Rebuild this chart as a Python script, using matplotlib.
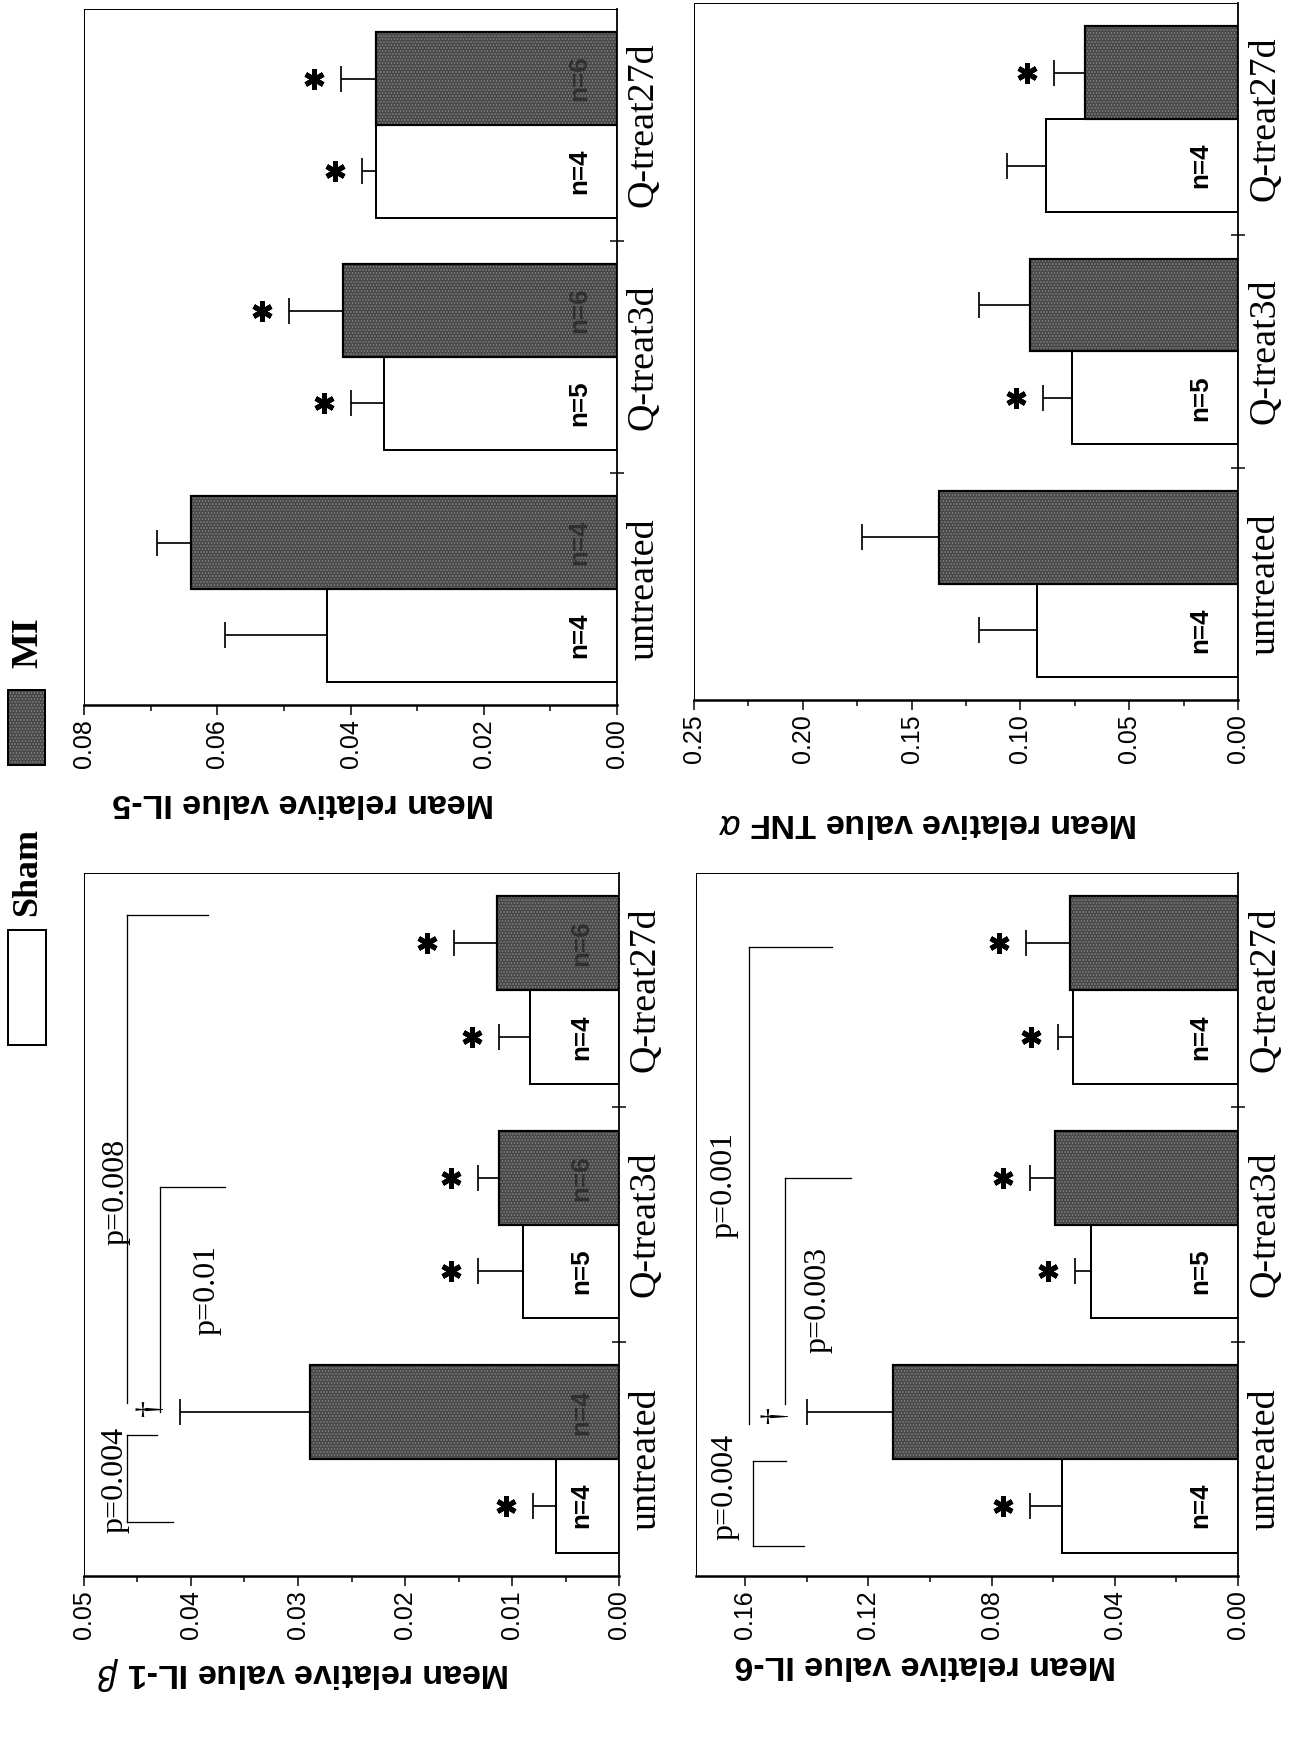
import matplotlib
matplotlib.use('Agg')
import matplotlib.pyplot as plt
import matplotlib.transforms as mtransforms
from matplotlib.patches import Rectangle
from matplotlib.ticker import MultipleLocator, FormatStrFormatter

W, H = 1289, 1748
DPI = 72

groups = ['untreated', 'Q-treat3d', 'Q-treat27d']
sham_n = ['n=4', 'n=5', 'n=4']
mi_n = ['n=4', 'n=6', 'n=6']

# mean relative values, sham then MI, with SEM
il5_sham = [0.0436, 0.0350, 0.0362]
il5_sham_err = [0.0153, 0.0050, 0.0020]
il5_mi = [0.0640, 0.0411, 0.0362]
il5_mi_err = [0.0050, 0.0081, 0.0052]

tnf_sham = [0.0922, 0.0762, 0.0883]
tnf_sham_err = [0.0267, 0.0135, 0.0178]
tnf_mi = [0.1375, 0.0954, 0.0705]
tnf_mi_err = [0.0352, 0.0235, 0.0139]

il1b_sham = [0.0059, 0.0090, 0.0083]
il1b_sham_err = [0.0021, 0.0042, 0.0029]
il1b_mi = [0.0289, 0.0112, 0.0114]
il1b_mi_err = [0.0121, 0.0020, 0.0040]

il6_sham = [0.0570, 0.0476, 0.0535]
il6_sham_err = [0.0105, 0.0052, 0.0048]
il6_mi = [0.1121, 0.0593, 0.0545]
il6_mi_err = [0.0277, 0.0081, 0.0144]

# significance vs untreated MI
il5_sham_star = [False, True, True]
il5_mi_star = [False, True, True]
tnf_sham_star = [False, True, False]
tnf_mi_star = [False, False, True]
il1b_sham_star = [True, True, True]
il1b_mi_star = [False, True, True]
il6_sham_star = [True, True, True]
il6_mi_star = [False, True, True]

# brackets: (x of spine, y start, y end, arm ends [(y, x)], label, label x, label y)
il1b_brackets = [
    (0.0460, -0.27, 0.10, [(0.10, 0.0432), (-0.27, 0.0417)], 'p=0.004', 0.0471, -0.09),
    (0.0429, 0.20, 1.16, [(1.16, 0.0368)], 'p=0.01', 0.0385, 0.72),
    (0.0460, 0.24, 2.32, [(2.32, 0.0384)], 'p=0.008', 0.0470, 1.14),
]
il6_brackets = [
    (0.1575, -0.37, -0.01, [(-0.01, 0.1467), (-0.37, 0.1408)], 'p=0.004', 0.1665, -0.12),
    (0.1470, 0.234, 1.20, [(1.20, 0.1258)], 'p=0.003', 0.1365, 0.68),
    (0.1588, 0.15, 2.185, [(2.185, 0.1317)], 'p=0.001', 0.1669, 1.17),
]
il1b_dagger = (0.0438, 0.22)
il6_dagger = (0.150, 0.19)

SERIF = 'Liberation Serif'
SANS = 'Liberation Sans'
DARK = '#474747'


def rect(x0, y0, x1, y1):
    return [x0 / W, 1 - y1 / H, (x1 - x0) / W, (y1 - y0) / H]


def panel(ax, sham, sham_err, mi, mi_err, sham_star, mi_star, xmax, major, minor,
          show_mi_n=False):
    pos = list(range(len(groups)))
    ys = [p - 0.2 for p in pos]
    ym = [p + 0.2 for p in pos]

    ax.barh(ys, sham, height=0.4, color='white', edgecolor='black', lw=2, zorder=2)
    # grainy fill for the MI bars, outline drawn on top
    ax.barh(ym, mi, height=0.4, color=DARK, edgecolor='#888888', lw=0,
            hatch='....', zorder=2)
    ax.barh(ym, mi, height=0.4, color='none', edgecolor='black', lw=2.2, zorder=3)

    zeros = [0] * len(groups)
    ax.errorbar(sham, ys, xerr=[zeros, sham_err], fmt='none', ecolor='black',
                elinewidth=1.7, capsize=13, capthick=1.7, zorder=1)
    ax.errorbar(mi, ym, xerr=[zeros, mi_err], fmt='none', ecolor='black',
                elinewidth=1.7, capsize=13, capthick=1.7, zorder=1)

    star_tr = mtransforms.offset_copy(ax.transData, fig=ax.figure, x=-27, y=0,
                                      units='points')
    for v, e, y, s in zip(sham + mi, sham_err + mi_err, ys + ym, sham_star + mi_star):
        if s:
            ax.plot(v + e, y, marker=(6, 2, 0), ms=20, mew=5, color='black',
                    transform=star_tr, clip_on=False)

    n_tr = mtransforms.offset_copy(ax.transData, fig=ax.figure, x=-38, y=0,
                                   units='points')
    for y, lab in zip(ys, sham_n):
        ax.text(0, y, lab, rotation=90, ha='center', va='center', fontsize=26,
                family=SANS, fontweight='bold', transform=n_tr, zorder=4)
    if show_mi_n:
        for y, lab in zip(ym, mi_n):
            ax.text(0, y, lab, rotation=90, ha='center', va='center', fontsize=26,
                    family=SANS, fontweight='bold', color='#303030',
                    transform=n_tr, zorder=4)

    ax.set_xlim(xmax, 0)
    ax.set_ylim(-0.5, 2.5)
    ax.xaxis.set_major_locator(MultipleLocator(major))
    ax.xaxis.set_minor_locator(MultipleLocator(minor))
    ax.xaxis.set_major_formatter(FormatStrFormatter('%.2f'))
    ax.tick_params(axis='x', which='major', length=10, width=1.5, direction='out',
                   labelrotation=90, labelsize=25, pad=4)
    ax.tick_params(axis='x', which='minor', length=6, width=1.5, direction='out')
    for lab in ax.get_xticklabels():
        lab.set_family(SANS)

    ax.set_yticks(pos)
    ax.set_yticklabels(groups, rotation=90, va='center', ha='left',
                       family=SERIF, fontsize=38)
    ax.set_yticks([0.5, 1.5], minor=True)
    ax.tick_params(axis='y', which='major', left=False, right=False,
                   labelleft=False, labelright=True, pad=6)
    ax.tick_params(axis='y', which='minor', left=False, right=True,
                   direction='inout', length=14, width=1.5)

    ax.spines['top'].set_linewidth(1)
    ax.spines['left'].set_linewidth(1)
    ax.spines['right'].set_linewidth(1.8)
    ax.spines['bottom'].set_linewidth(2.5)


def brackets(ax, items):
    for x, y0, y1, arms, lab, lx, ly in items:
        ax.plot([x, x], [y0, y1], color='black', lw=1.3, clip_on=False)
        for ya, xa in arms:
            ax.plot([x, xa], [ya, ya], color='black', lw=1.3, clip_on=False)
        ax.text(lx, ly, lab, rotation=90, ha='center', va='center', family=SERIF,
                fontsize=32)


def dagger(ax, pt):
    ax.text(pt[0], pt[1], '\u2020', rotation=90, ha='center', va='center',
            family=SERIF, fontsize=34)


fig = plt.figure(figsize=(W / DPI, H / DPI), dpi=DPI)

ax5 = fig.add_axes(rect(84, 9, 617, 705))
panel(ax5, il5_sham, il5_sham_err, il5_mi, il5_mi_err, il5_sham_star, il5_mi_star,
      0.08, 0.02, 0.01, show_mi_n=True)

axt = fig.add_axes(rect(694, 3, 1238, 700))
panel(axt, tnf_sham, tnf_sham_err, tnf_mi, tnf_mi_err, tnf_sham_star, tnf_mi_star,
      0.25, 0.05, 0.025)

ax1 = fig.add_axes(rect(84, 873, 619, 1576))
panel(ax1, il1b_sham, il1b_sham_err, il1b_mi, il1b_mi_err, il1b_sham_star,
      il1b_mi_star, 0.05, 0.01, 0.005, show_mi_n=True)
brackets(ax1, il1b_brackets)
dagger(ax1, il1b_dagger)

ax6 = fig.add_axes(rect(696, 873, 1238, 1576))
panel(ax6, il6_sham, il6_sham_err, il6_mi, il6_mi_err, il6_sham_star, il6_mi_star,
      0.176, 0.04, 0.02)
brackets(ax6, il6_brackets)
dagger(ax6, il6_dagger)

# value-axis titles, upside down
ylab = dict(rotation=180, ha='center', va='center', family=SANS,
            fontweight='bold', fontsize=34)
fig.text(303 / W, 1 - 803 / H, 'Mean relative value IL-5', **ylab)
fig.text(928 / W, 1 - 823 / H, r'Mean relative value TNF $\alpha$', **ylab)
fig.text(303 / W, 1 - 1673 / H, r'Mean relative value IL-1 $\beta$', **ylab)
fig.text(925 / W, 1 - 1665 / H, 'Mean relative value IL-6', **ylab)

# legend along the left margin
lax = fig.add_axes([0, 0, 1, 1], zorder=-1)
lax.set_xlim(0, W)
lax.set_ylim(H, 0)
lax.axis('off')
lax.add_patch(Rectangle((8, 690), 37, 75, facecolor=DARK, edgecolor='#888888',
                        lw=0, hatch='....'))
lax.add_patch(Rectangle((8, 690), 37, 75, facecolor='none', edgecolor='black', lw=2))
lax.add_patch(Rectangle((8, 930), 38, 115, facecolor='white', edgecolor='black', lw=2))
lax.text(28, 643, 'MI', rotation=90, ha='center', va='center', family=SERIF,
         fontweight='bold', fontsize=38)
lax.text(28, 872, 'Sham', rotation=90, ha='center', va='center', family=SERIF,
         fontweight='bold', fontsize=36)

fig.savefig('out.png', dpi=DPI, facecolor='white')
